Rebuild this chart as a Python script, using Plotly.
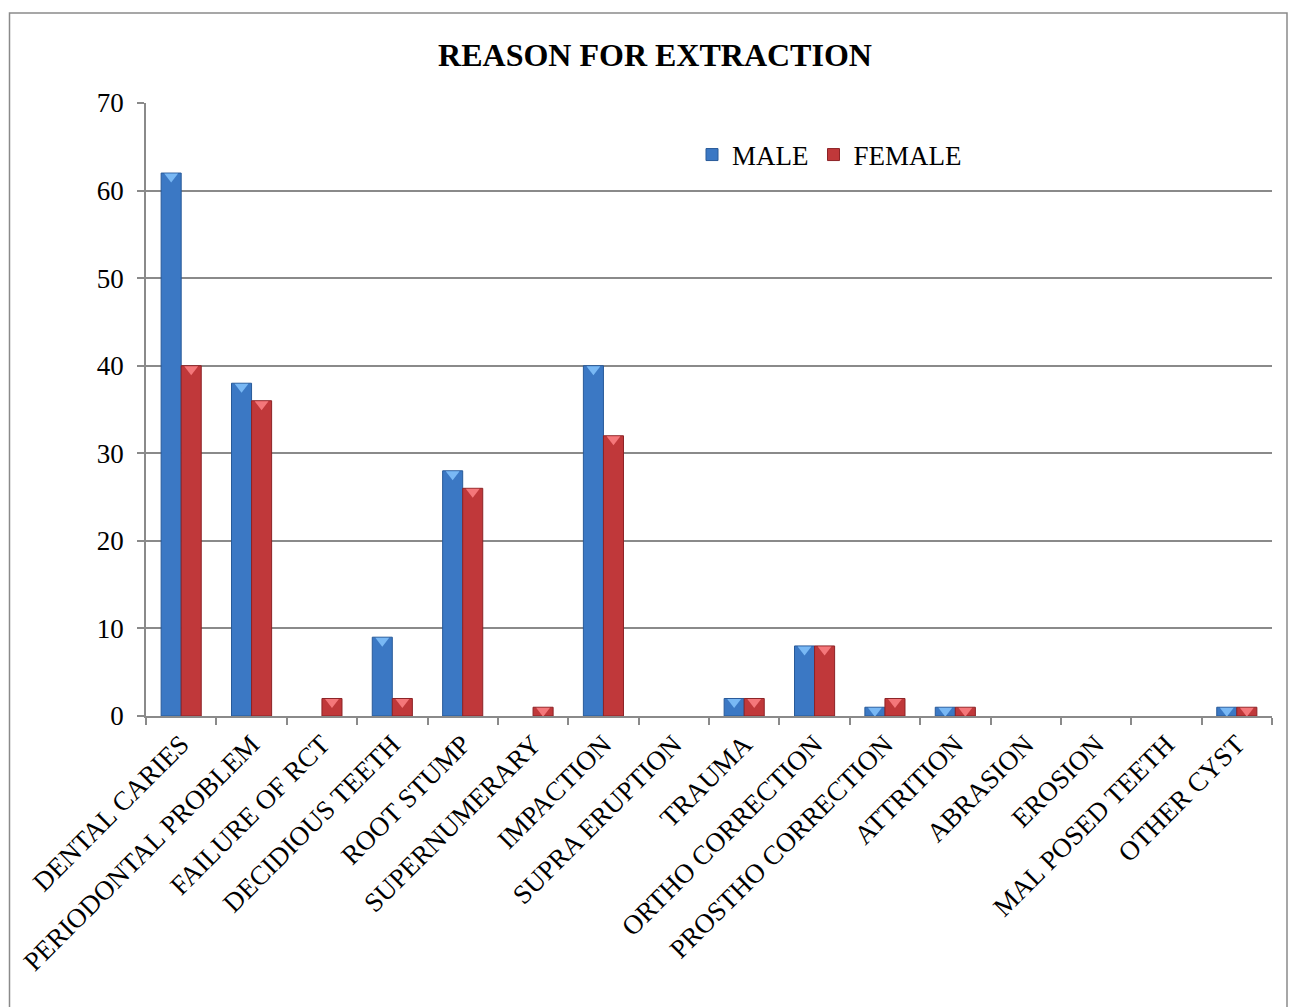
import plotly.graph_objects as go

# Reasons for tooth extraction, counts by sex
categories = [
    "DENTAL CARIES", "PERIODONTAL PROBLEM", "FAILURE OF RCT", "DECIDIOUS TEETH",
    "ROOT STUMP", "SUPERNUMERARY", "IMPACTION", "SUPRA ERUPTION", "TRAUMA",
    "ORTHO CORRECTION", "PROSTHO CORRECTION", "ATTRITION", "ABRASION",
    "EROSION", "MAL POSED TEETH", "OTHER CYST",
]
male = [62, 38, 0, 9, 28, 0, 40, 0, 2, 8, 1, 1, 0, 0, 0, 1]
female = [40, 36, 2, 2, 26, 1, 32, 0, 2, 8, 2, 1, 0, 0, 0, 1]
y_ticks = [0, 10, 20, 30, 40, 50, 60, 70]

FONT = "Liberation Serif, Times New Roman, serif"
BAR_W = 0.285          # width of one bar in category units
Y_MAX = 70
PLOT_H = 613           # plot area height in px
CAP_DROP = 3.5 * Y_MAX / PLOT_H  # shift so the bevel cap sits at the bar top

idx = list(range(len(categories)))

series = [
    ("MALE", male, -BAR_W, "#3b78c4", "#285a99", "#79b8f4"),
    ("FEMALE", female, 0.0, "#c0383a", "#8c2326", "#f4777a"),
]

fig = go.Figure()
for name, vals, off, col, edge, cap in series:
    fig.add_trace(go.Bar(
        name=name, x=idx, y=vals, width=BAR_W, offset=off,
        marker=dict(color=col,
                    line=dict(color=edge, width=[1 if v > 0 else 0 for v in vals])),
        hoverinfo="y",
    ))
for name, vals, off, col, edge, cap in series:
    # light bevel cap on top of each non-empty bar
    fig.add_trace(go.Scatter(
        x=[i + off + BAR_W / 2 for i in idx],
        y=[v - CAP_DROP if v > 0 else None for v in vals],
        mode="markers",
        marker=dict(symbol="triangle-down", size=12, color=cap,
                    line=dict(width=0)),
        showlegend=False, hoverinfo="skip",
    ))

fig.update_layout(
    width=1290, height=1007,
    margin=dict(l=146, r=18, t=103, b=291, autoexpand=False),
    paper_bgcolor="white", plot_bgcolor="white",
    font=dict(family=FONT, size=27, color="black"),
    title=dict(text="<b>REASON FOR EXTRACTION</b>", font=dict(family=FONT, size=32),
               x=655 / 1290, xanchor="center", y=1 - 55 / 1007, yanchor="middle",
               xref="container", yref="container"),
    barmode="overlay",
    showlegend=True,
    legend=dict(orientation="h", x=(692 - 146) / 1126, y=(716 - 155) / 613,
                xanchor="left", yanchor="middle", bgcolor="rgba(0,0,0,0)",
                font=dict(family=FONT, size=27), itemwidth=30,
                traceorder="normal"),
    shapes=[dict(type="rect", xref="paper", yref="paper",
                 x0=(9.5 - 146) / 1126, x1=(1287 - 146) / 1126,
                 y0=(716 - 1008) / 613, y1=(716 - 13) / 613,
                 line=dict(color="#8a8a8a", width=1.5), fillcolor="rgba(0,0,0,0)",
                 layer="below")],
)

fig.update_xaxes(
    range=[-0.5, len(categories) - 0.5],
    tickmode="array", tickvals=idx, ticktext=categories, tickangle=-45,
    ticks="", showgrid=False, zeroline=False,
    showline=True, linecolor="#8a8a8a", linewidth=1.5,
    tickfont=dict(family=FONT, size=27),
    minor=dict(tickmode="array", tickvals=[i - 0.5 for i in idx] + [len(categories) - 0.5],
               ticks="outside", ticklen=7, tickcolor="#8a8a8a", tickwidth=1.5,
               showgrid=False),
    automargin=False,
)
fig.update_yaxes(
    range=[0, Y_MAX], tickmode="array", tickvals=y_ticks,
    showgrid=True, gridcolor="#8a8a8a", gridwidth=1.5, zeroline=False,
    showline=True, linecolor="#8a8a8a", linewidth=1.5,
    ticks="outside", ticklen=7, tickcolor="#8a8a8a", tickwidth=1.5,
    ticklabelstandoff=8,
    tickfont=dict(family=FONT, size=27),
    automargin=False,
)

fig.write_html("out.html")
